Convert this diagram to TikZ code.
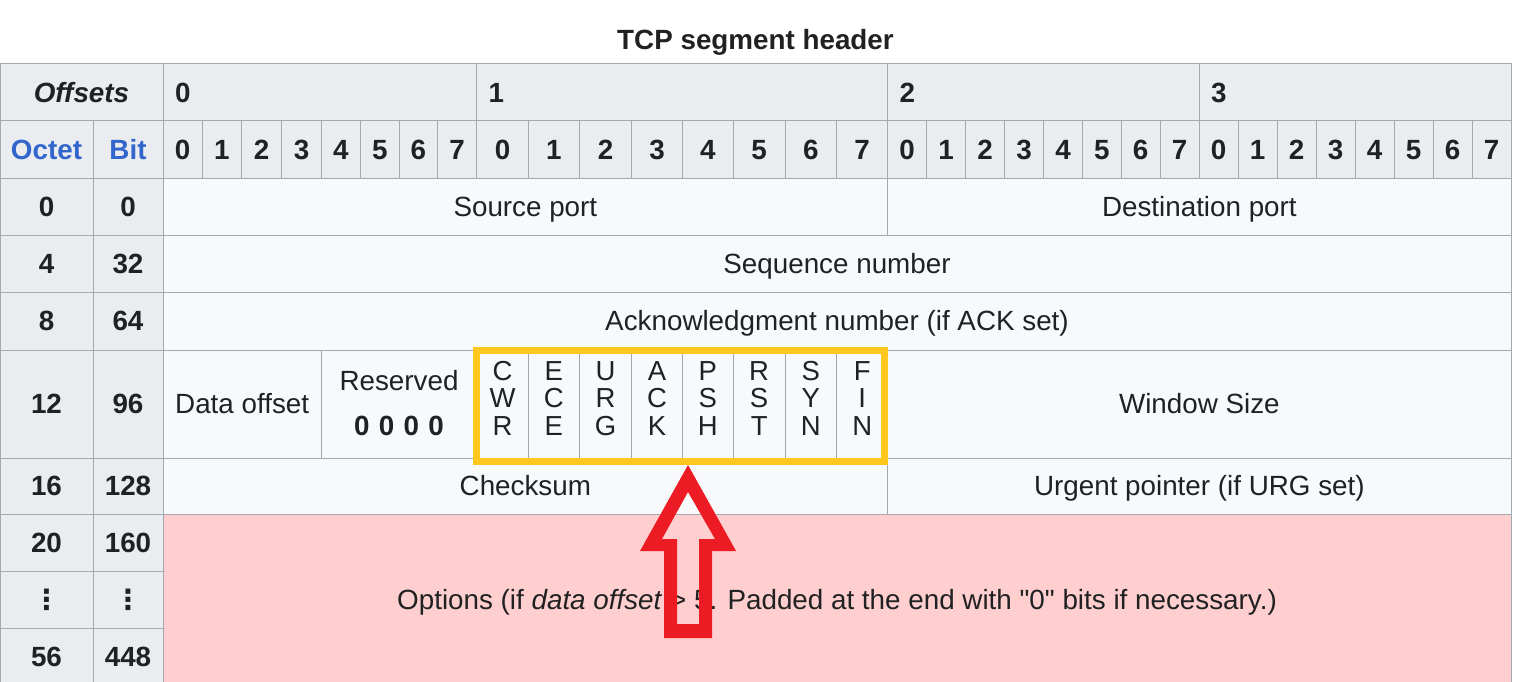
\documentclass[tikz,border=0pt]{standalone}
\usepackage{fontspec}
\setmainfont{Liberation Sans}
\newfontfamily\nolig{Liberation Sans}
\newfontfamily\dejavu{DejaVu Sans}
\definecolor{hdrc}{HTML}{EAECF0}
\definecolor{cellc}{HTML}{F8F9FA}
\definecolor{bordc}{HTML}{A2A9B1}
\definecolor{pinkc}{HTML}{FFCFCF}
\definecolor{linkc}{HTML}{3366CC}
\definecolor{ink}{HTML}{202122}
\definecolor{redc}{HTML}{ED1C24}
\definecolor{yelc}{HTML}{FFC81E}
\tikzset{
  hdr/.style={fill=hdrc, draw=bordc, line width=1pt},
  dat/.style={fill=cellc, draw=bordc, line width=1pt},
  opt/.style={fill=pinkc, draw=bordc, line width=1pt},
  txt/.style={inner sep=0pt, outer sep=0pt, text=ink, font=\fontsize{27.8}{27.8}\selectfont, text height=19.9pt, text depth=0pt},
  bt/.style={txt, font=\fontsize{27.8}{27.8}\selectfont\bfseries},
  lnk/.style={bt, text=linkc},
  flagtxt/.style={inner sep=0pt, outer sep=0pt, text=ink, align=center, font=\fontsize{27.5}{27.5}\selectfont},
}
\newcommand\tcell[7]{\path[#6] (#2,#3) rectangle (#4,#5); \node[#7] (#1) at ({(#2+#4)/2},{(#3+#5)/2})}
\begin{document}
\begin{tikzpicture}[x=1pt,y=-1pt]
\useasboundingbox[fill=white] (0,0) rectangle (1514,682);
% title
\node[bt, anchor=base] (title) at (755.5,50) {TCP segment header};
% row: offsets
\tcell{offsets}{0}{64}{163}{121}{hdr}{bt}{\itshape Offsets};
\path[hdr] (163,64) rectangle (476.7,121);
\node[bt, anchor=west] (oct0) at (175,92.5) {0};
\path[hdr] (476.7,64) rectangle (887.7,121);
\node[bt, anchor=west] (oct1) at (488.5,92.5) {1};
\path[hdr] (887.7,64) rectangle (1199,121);
\node[bt, anchor=west] (oct2) at (899.5,92.5) {2};
\path[hdr] (1199,64) rectangle (1511,121);
\node[bt, anchor=west] (oct3) at (1211,92.5) {3};
% row: bit numbers
\tcell{octet}{0}{121}{93}{178}{hdr}{lnk}{Octet};
\tcell{bit}{93}{121}{163}{178}{hdr}{lnk}{Bit};
\foreach \a/\b/\n [count=\i] in {
  163/202.3/0, 202.3/241.3/1, 241.3/281.7/2, 281.7/321.3/3, 321.3/360.3/4, 360.3/399.3/5, 399.3/437.3/6, 437.3/476.7/7,
  476.7/528.3/0, 528.3/579.3/1, 579.3/631.7/2, 631.7/682.3/3, 682.3/733.3/4, 733.3/785/5, 785/836.7/6, 836.7/887.7/7,
  887.7/926.5/0, 926.5/965.5/1, 965.5/1004.5/2, 1004.5/1043.5/3, 1043.5/1082.5/4, 1082.5/1121/5, 1121/1160/6, 1160/1199/7,
  1199/1238/0, 1238/1277/1, 1277/1316/2, 1316/1355/3, 1355/1394/4, 1394/1433/5, 1433/1472/6, 1472/1511/7}{
  \path[hdr] (\a,121) rectangle (\b,178);
  \node[bt] (bit\i) at ({(\a+\b)/2},149.5) {\n};
}
% row 0
\tcell{o0}{0}{178}{93}{235}{hdr}{bt}{0};
\tcell{b0}{93}{178}{163}{235}{hdr}{bt}{0};
\tcell{srcport}{163}{178}{887.7}{235}{dat}{txt}{Source port};
\tcell{dstport}{887.7}{178}{1511}{235}{dat}{txt}{Destination port};
% row 4
\tcell{o4}{0}{235}{93}{292}{hdr}{bt}{4};
\tcell{b32}{93}{235}{163}{292}{hdr}{bt}{32};
\tcell{seq}{163}{235}{1511}{292}{dat}{txt}{Sequence number};
% row 8
\tcell{o8}{0}{292}{93}{350}{hdr}{bt}{8};
\tcell{b64}{93}{292}{163}{350}{hdr}{bt}{64};
\tcell{ack}{163}{292}{1511}{350}{dat}{txt}{Acknowledgment number (if ACK set)};
% row 12
\tcell{o12}{0}{350}{93}{458}{hdr}{bt}{12};
\tcell{b96}{93}{350}{163}{458}{hdr}{bt}{96};
\tcell{dataoff}{163}{350}{321.3}{458}{dat}{txt}{Data offset};
\path[dat] (321.3,350) rectangle (476.7,458);
\node[txt] (reserved) at (399,380.5) {Reserved};
\node[bt] (zeros) at (399,425.5) {0\,\,0\,\,0\,\,0};
\foreach \a/\b/\t [count=\i] in {
  476.7/528.3/{C\\W\\R}, 528.3/579.3/{E\\C\\E}, 579.3/631.7/{U\\R\\G}, 631.7/682.3/{A\\C\\K},
  682.3/733.3/{P\\S\\H}, 733.3/785/{R\\S\\T}, 785/836.7/{S\\Y\\N}, 836.7/887.7/{F\\I\\N}}{
  \path[dat] (\a,350) rectangle (\b,458);
  \node[flagtxt] (flag\i) at ({(\a+\b)/2},398.2) {\t};
}
\tcell{window}{887.7}{350}{1511}{458}{dat}{txt}{Window Size};
% row 16
\tcell{o16}{0}{458}{93}{514}{hdr}{bt}{16};
\tcell{b128}{93}{458}{163}{514}{hdr}{bt}{128};
\tcell{checksum}{163}{458}{887.7}{514}{dat}{txt}{Checksum};
\tcell{urgent}{887.7}{458}{1511}{514}{dat}{txt}{Urgent pointer (if URG set)};
% options rows
\tcell{o20}{0}{514}{93}{571}{hdr}{bt}{20};
\tcell{b160}{93}{514}{163}{571}{hdr}{bt}{160};
\tcell{odots}{0}{571}{93}{628}{hdr}{bt}{\dejavu\bfseries ⋮};
\tcell{bdots}{93}{571}{163}{628}{hdr}{bt}{\dejavu\bfseries ⋮};
\tcell{o56}{0}{628}{93}{685}{hdr}{bt}{56};
\tcell{b448}{93}{628}{163}{685}{hdr}{bt}{448};
\tcell{options}{163}{514}{1511}{685}{opt}{txt}{\nolig Options (if \textit{data offset} > 5. Padded at the end with "0" bits if necessary.)};
% highlight box round the flags
\draw[yelc, line width=6.7pt] (476.7,350.7) rectangle (884.5,461.3);
% hollow red arrow
\fill[redc, even odd rule]
  (688,465) -- (736,551) -- (712,551) -- (712,638) -- (664,638) -- (664,551) -- (640,551) -- cycle
  (688,492) -- (715,539) -- (699,539) -- (699,624) -- (677,624) -- (677,539) -- (662,539) -- cycle;
\end{tikzpicture}
\end{document}
